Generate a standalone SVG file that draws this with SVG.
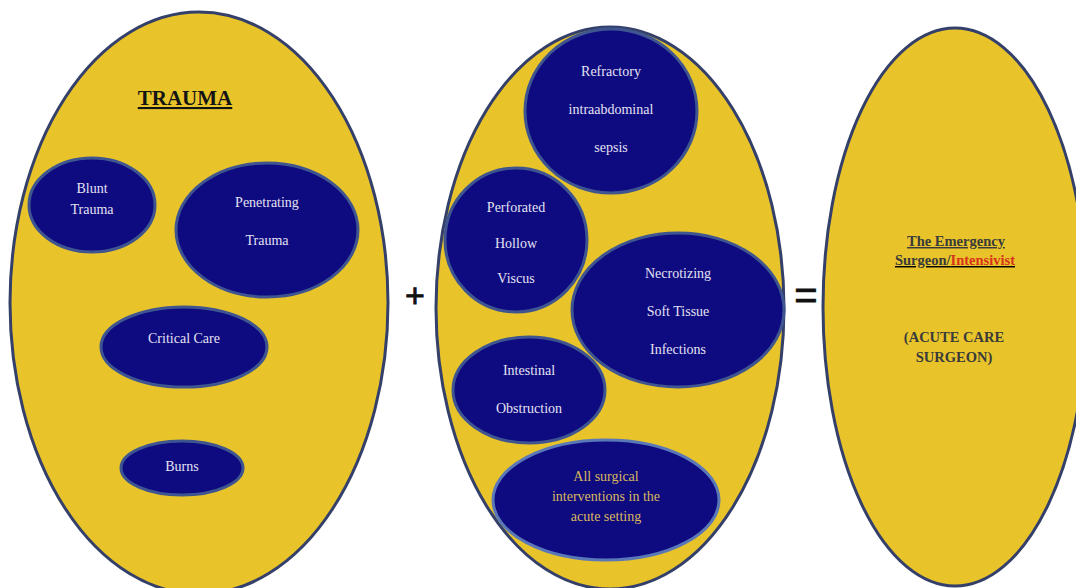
<svg xmlns="http://www.w3.org/2000/svg" width="1076" height="588" viewBox="0 0 1076 588">
<style>
.big{fill:#e8c42a;stroke:#34406a;stroke-width:3}
.sm{fill:#0e0a80;stroke:#3f5590;stroke-width:3}
.lt{font-family:"Liberation Serif",serif;font-size:14px;fill:#e4e2f2;text-anchor:middle}
.yt{font-family:"Liberation Serif",serif;font-size:14px;fill:#d8b85e;text-anchor:middle}
.hd{font-family:"Liberation Serif",serif;font-weight:bold;text-anchor:middle}
.op{font-family:"Liberation Sans",sans-serif;text-anchor:middle;fill:#111;stroke:#111;stroke-width:0.8}
</style>
<rect width="1076" height="588" fill="#ffffff"/>
<g id="trauma">
<ellipse class="big" cx="199" cy="303" rx="189" ry="291"/>
<text class="hd" x="185" y="105" font-size="21" fill="#141414" text-decoration="underline">TRAUMA</text>
</g>
<g id="blunt"><ellipse class="sm" cx="92" cy="205" rx="63" ry="47"/>
<text class="lt" x="92" y="193">Blunt</text><text class="lt" x="92" y="214">Trauma</text></g>
<g id="penetrating"><ellipse class="sm" cx="267" cy="230" rx="91" ry="67"/>
<text class="lt" x="267" y="207">Penetrating</text><text class="lt" x="267" y="245">Trauma</text></g>
<g id="critical"><ellipse class="sm" cx="184" cy="347" rx="83" ry="40"/>
<text class="lt" x="184" y="343">Critical Care</text></g>
<g id="burns"><ellipse class="sm" cx="182" cy="468" rx="61" ry="27"/>
<text class="lt" x="182" y="471">Burns</text></g>

<g id="middle"><ellipse class="big" cx="610" cy="308" rx="174" ry="281"/></g>
<g id="refractory"><ellipse class="sm" cx="611" cy="111" rx="86" ry="82"/>
<text class="lt" x="611" y="76">Refractory</text><text class="lt" x="611" y="114">intraabdominal</text><text class="lt" x="611" y="152">sepsis</text></g>
<g id="perforated"><ellipse class="sm" cx="516" cy="240" rx="71" ry="72"/>
<text class="lt" x="516" y="212">Perforated</text><text class="lt" x="516" y="248">Hollow</text><text class="lt" x="516" y="283">Viscus</text></g>
<g id="necrotizing"><ellipse class="sm" cx="678" cy="310" rx="106" ry="77"/>
<text class="lt" x="678" y="278">Necrotizing</text><text class="lt" x="678" y="316">Soft Tissue</text><text class="lt" x="678" y="354">Infections</text></g>
<g id="intestinal"><ellipse class="sm" cx="529" cy="390" rx="76" ry="53"/>
<text class="lt" x="529" y="375">Intestinal</text><text class="lt" x="529" y="413">Obstruction</text></g>
<g id="allsurgical"><ellipse class="sm" cx="606" cy="500" rx="113" ry="60" style="stroke:#5a78b8"/>
<text class="yt" x="606" y="481">All surgical</text><text class="yt" x="606" y="501">interventions in the</text><text class="yt" x="606" y="521">acute setting</text></g>

<g id="ops">
<text class="op" x="415" y="307" font-size="34">+</text>
<text class="op" x="806" y="309" font-size="40">=</text>
</g>

<g id="surgeon">
<ellipse class="big" cx="955" cy="307" rx="132" ry="279"/>
<text class="hd" x="956" y="246" font-size="14.5" fill="#3a3a3a" text-decoration="underline">The Emergency</text>
<text class="hd" x="955" y="265" font-size="14.5" text-decoration="underline"><tspan fill="#3a3a3a">Surgeon/</tspan><tspan fill="#d8321c">Intensivist</tspan></text>
<text class="hd" x="954" y="342" font-size="14.5" fill="#3a3a3a">(ACUTE CARE</text>
<text class="hd" x="954" y="362" font-size="14.5" fill="#3a3a3a">SURGEON)</text>
</g>
</svg>
